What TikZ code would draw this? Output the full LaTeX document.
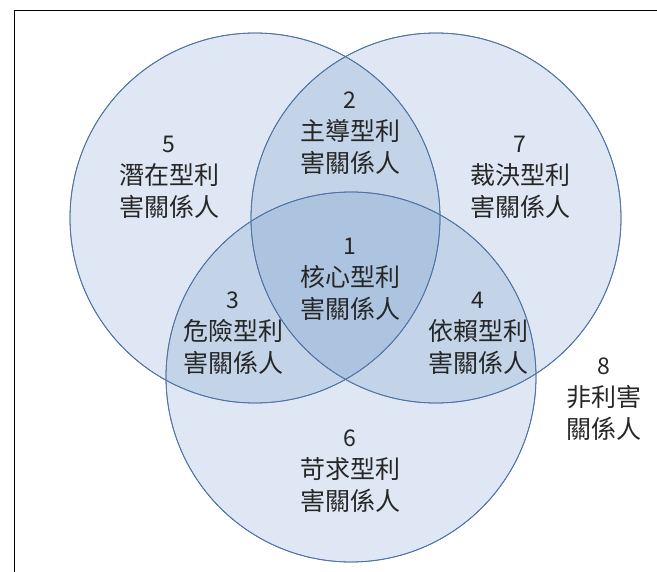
\documentclass[tikz,border=0pt]{standalone}
\usepackage{fontspec}
\newfontfamily\cjkfont{Noto Sans CJK TC}
\definecolor{vennfill}{RGB}{79,129,189}
\definecolor{vennline}{RGB}{80,115,165}
\newcommand{\numsz}{\fontsize{23}{31.5}\selectfont}
\tikzset{
  vennc/.style={draw=vennline, line width=0.8pt, fill=vennfill, fill opacity=0.19},
  lbl/.style={align=center, inner sep=0pt, text=black!85,
    font=\cjkfont\fontsize{25}{32}\selectfont},
  frameline/.style={draw=black, line width=1pt}
}
\begin{document}
\begin{tikzpicture}[x=1pt,y=-1pt]
\useasboundingbox (0,0) rectangle (657,572);
\draw[frameline] (14,572) -- (14,11) -- (657,11);
\fill[vennc] (255,218) circle (185pt);
\fill[vennc] (436,218) circle (185pt);
\fill[vennc] (351,377) circle (185pt);
\draw[draw=vennline, line width=0.8pt] (255,218) circle (185pt);
\draw[draw=vennline, line width=0.8pt] (436,218) circle (185pt);
\draw[draw=vennline, line width=0.8pt] (351,377) circle (185pt);
\node[lbl] (r2) at (350,133) {{\numsz 2}\\主導型利\\害關係人};
\node[lbl] (r5) at (169,177) {{\numsz 5}\\潛在型利\\害關係人};
\node[lbl] (r7) at (520,177) {{\numsz 7}\\裁決型利\\害關係人};
\node[lbl] (r1) at (350,279) {{\numsz 1}\\核心型利\\害關係人};
\node[lbl] (r3) at (233,333) {{\numsz 3}\\危險型利\\害關係人};
\node[lbl] (r4) at (478,333) {{\numsz 4}\\依賴型利\\害關係人};
\node[lbl] (r8) at (604,399) {{\numsz 8}\\非利害\\關係人};
\node[lbl] (r6) at (350,471) {{\numsz 6}\\苛求型利\\害關係人};
\end{tikzpicture}
\end{document}
